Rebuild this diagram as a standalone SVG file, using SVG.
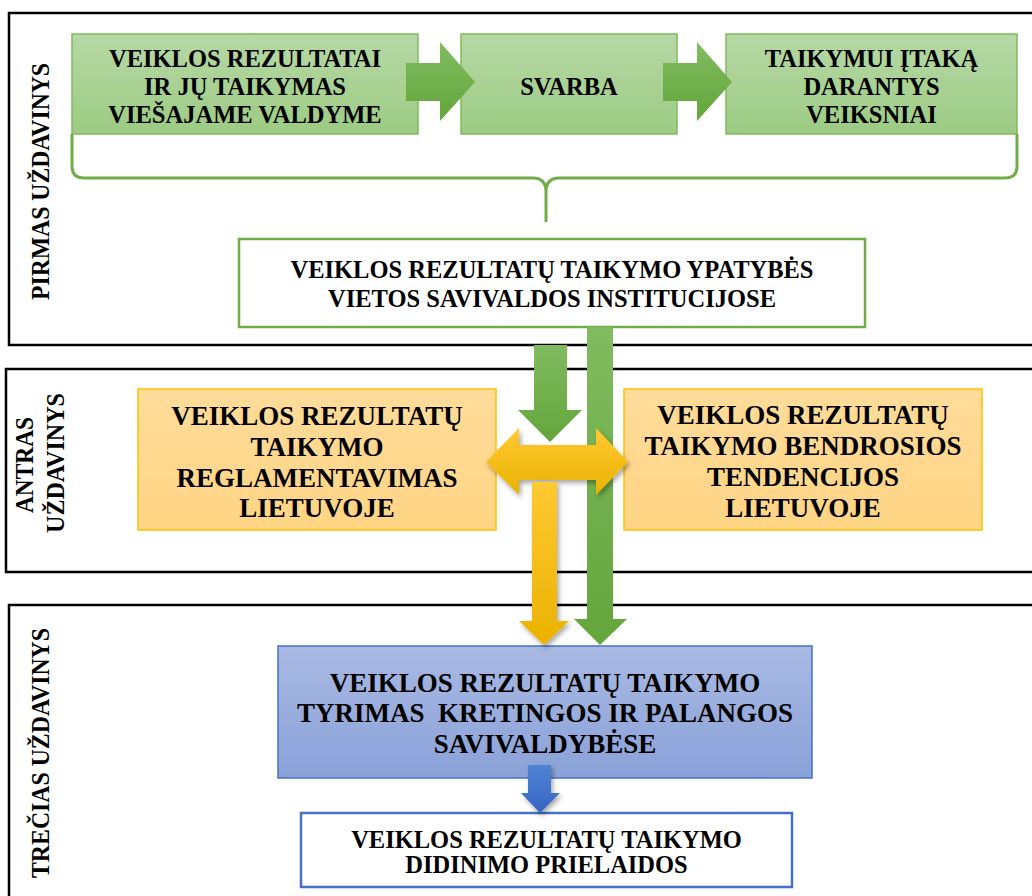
<svg xmlns="http://www.w3.org/2000/svg" width="1032" height="896" viewBox="0 0 1032 896" font-family="'Liberation Serif', 'DejaVu Serif', serif">
  <style>
    .panel { fill: none; stroke: #000; stroke-width: 2.5; }
    .lbl { font-family: 'Liberation Serif', 'DejaVu Serif', serif; font-weight: 700; fill: #000; text-anchor: middle; }
    .side { font-size: 25px; }
    .t24 { font-size: 24.5px; }
    .t26 { font-size: 27px; }
    .gbox { fill: url(#gGreenBox); stroke: #7fba5d; stroke-width: 1.5; }
    .obox { fill: url(#gOrangeBox); stroke: #ffc000; stroke-width: 1.5; }
    .bbox { fill: url(#gBlueBox); stroke: #4472c4; stroke-width: 1.5; }
    .wgbox { fill: #fff; stroke: #70ad47; stroke-width: 2.5; }
    .wbbox { fill: #fff; stroke: #4472c4; stroke-width: 2.5; }
    .garrow { fill: url(#gGreenArrow); }
    .yarrow { fill: url(#gYellowArrow); filter: url(#shadow); }
    .barrow { fill: url(#gBlueArrow); filter: url(#shadow); }
    .brace { fill: none; stroke: #70ad47; stroke-width: 3; stroke-linejoin: round; }
  </style>
  <defs>
    <linearGradient id="gGreenBox" x1="0" y1="0" x2="0" y2="1">
      <stop offset="0" stop-color="#b7d8a6"/>
      <stop offset="1" stop-color="#9ccb83"/>
    </linearGradient>
    <linearGradient id="gOrangeBox" x1="0" y1="0" x2="0" y2="1">
      <stop offset="0" stop-color="#ffdc9a"/>
      <stop offset="1" stop-color="#ffd484"/>
    </linearGradient>
    <linearGradient id="gBlueBox" x1="0" y1="0" x2="0" y2="1">
      <stop offset="0" stop-color="#a9b9e2"/>
      <stop offset="1" stop-color="#8aa2d9"/>
    </linearGradient>
    <linearGradient id="gGreenArrow" x1="0" y1="0" x2="0" y2="1">
      <stop offset="0" stop-color="#81bb60"/>
      <stop offset="1" stop-color="#63a63b"/>
    </linearGradient>
    <linearGradient id="gYellowArrow" x1="0" y1="0" x2="0" y2="1">
      <stop offset="0" stop-color="#ffc933"/>
      <stop offset="1" stop-color="#eab200"/>
    </linearGradient>
    <linearGradient id="gBlueArrow" x1="0" y1="0" x2="0" y2="1">
      <stop offset="0" stop-color="#4f83d3"/>
      <stop offset="1" stop-color="#3566c3"/>
    </linearGradient>
    <filter id="shadow" x="-30%" y="-30%" width="160%" height="160%">
      <feDropShadow dx="2" dy="3" stdDeviation="2.5" flood-color="#000" flood-opacity="0.35"/>
    </filter>
  </defs>

  <rect width="1032" height="896" fill="#fff"/>

  <!-- task panels -->
  <g id="panel-1">
    <rect class="panel" x="9" y="13" width="1040" height="332"/>
    <text class="lbl side" transform="translate(49,181.5) rotate(-90)" textLength="237" lengthAdjust="spacingAndGlyphs">PIRMAS UŽDAVINYS</text>
  </g>
  <g id="panel-2">
    <rect class="panel" x="6" y="369" width="1040" height="203"/>
    <text class="lbl side" transform="translate(33,465) rotate(-90)" textLength="96" lengthAdjust="spacingAndGlyphs">ANTRAS</text>
    <text class="lbl side" transform="translate(64,463) rotate(-90)" textLength="140" lengthAdjust="spacingAndGlyphs">UŽDAVINYS</text>
  </g>
  <g id="panel-3">
    <rect class="panel" x="9" y="605" width="1040" height="310"/>
    <text class="lbl side" transform="translate(49,753) rotate(-90)" textLength="250" lengthAdjust="spacingAndGlyphs">TREČIAS UŽDAVINYS</text>
  </g>

  <!-- first task -->
  <g id="node-rezultatai">
    <rect class="gbox" x="72" y="34" width="346" height="100"/>
    <text class="lbl t24" x="245" y="67">VEIKLOS REZULTATAI</text>
    <text class="lbl t24" x="245" y="95">IR JŲ TAIKYMAS</text>
    <text class="lbl t24" x="245" y="123">VIEŠAJAME VALDYME</text>
  </g>
  <g id="node-svarba">
    <rect class="gbox" x="461" y="34" width="216" height="100"/>
    <text class="lbl t24" x="569" y="95">SVARBA</text>
  </g>
  <g id="node-veiksniai">
    <rect class="gbox" x="726" y="34" width="291" height="100"/>
    <text class="lbl t24" x="871.5" y="67">TAIKYMUI ĮTAKĄ</text>
    <text class="lbl t24" x="871.5" y="95">DARANTYS</text>
    <text class="lbl t24" x="871.5" y="123">VEIKSNIAI</text>
  </g>
  <g id="node-ypatybes">
    <rect class="wgbox" x="239" y="239" width="626" height="88"/>
    <text class="lbl t24" x="552" y="278">VEIKLOS REZULTATŲ TAIKYMO YPATYBĖS</text>
    <text class="lbl t24" x="552" y="307">VIETOS SAVIVALDOS INSTITUCIJOSE</text>
  </g>

  <!-- second task -->
  <g id="node-reglamentavimas">
    <rect class="obox" x="138" y="389" width="358" height="141"/>
    <text class="lbl t26" x="317" y="425">VEIKLOS REZULTATŲ</text>
    <text class="lbl t26" x="317" y="456">TAIKYMO</text>
    <text class="lbl t26" x="317" y="487">REGLAMENTAVIMAS</text>
    <text class="lbl t26" x="317" y="517">LIETUVOJE</text>
  </g>
  <g id="node-tendencijos">
    <rect class="obox" x="624" y="389" width="358" height="141"/>
    <text class="lbl t26" x="803" y="424">VEIKLOS REZULTATŲ</text>
    <text class="lbl t26" x="803" y="455">TAIKYMO BENDROSIOS</text>
    <text class="lbl t26" x="803" y="486">TENDENCIJOS</text>
    <text class="lbl t26" x="803" y="517">LIETUVOJE</text>
  </g>

  <!-- third task -->
  <g id="node-tyrimas">
    <rect class="bbox" x="278" y="646" width="534" height="132"/>
    <text class="lbl t26" x="545" y="692">VEIKLOS REZULTATŲ TAIKYMO</text>
    <text class="lbl t26" x="545" y="722" xml:space="preserve">TYRIMAS  KRETINGOS IR PALANGOS</text>
    <text class="lbl t26" x="545" y="753">SAVIVALDYBĖSE</text>
  </g>
  <g id="node-prielaidos">
    <rect class="wbbox" x="301" y="813" width="491" height="74"/>
    <text class="lbl t24" x="546.5" y="848">VEIKLOS REZULTATŲ TAIKYMO</text>
    <text class="lbl t24" x="546.5" y="873">DIDINIMO PRIELAIDOS</text>
  </g>

  <!-- connectors -->
  <g id="connectors">
    <polygon class="garrow" points="406,63 440,63 440,42 475,82 440,121 440,101 406,101"/>
    <polygon class="garrow" points="663,63 697,63 697,42 732,82 697,121 697,101 663,101"/>
    <path class="brace" d="M72,134 V166 Q72,178 84,178 H533 Q546,178 546,192 V222 M546,192 Q546,178 559,178 H1005 Q1017,178 1017,166 V134"/>
    <polygon class="garrow" points="534,345 567,345 567,410 582,410 550,442 518,410 534,410"/>
    <polygon class="garrow" points="587,327 613,327 613,619 627,619 600,645 574,619 587,619"/>
    <polygon class="yarrow" points="486,462 519,428 519,445 596,445 596,428 628,462 596,495 596,480 519,480 519,495"/>
    <polygon class="yarrow" points="532,482 557,482 557,621 569,621 544,645 519,621 532,621"/>
    <polygon class="barrow" points="528,765 551,765 551,793 560,793 540,813 521,793 528,793"/>
  </g>
</svg>
